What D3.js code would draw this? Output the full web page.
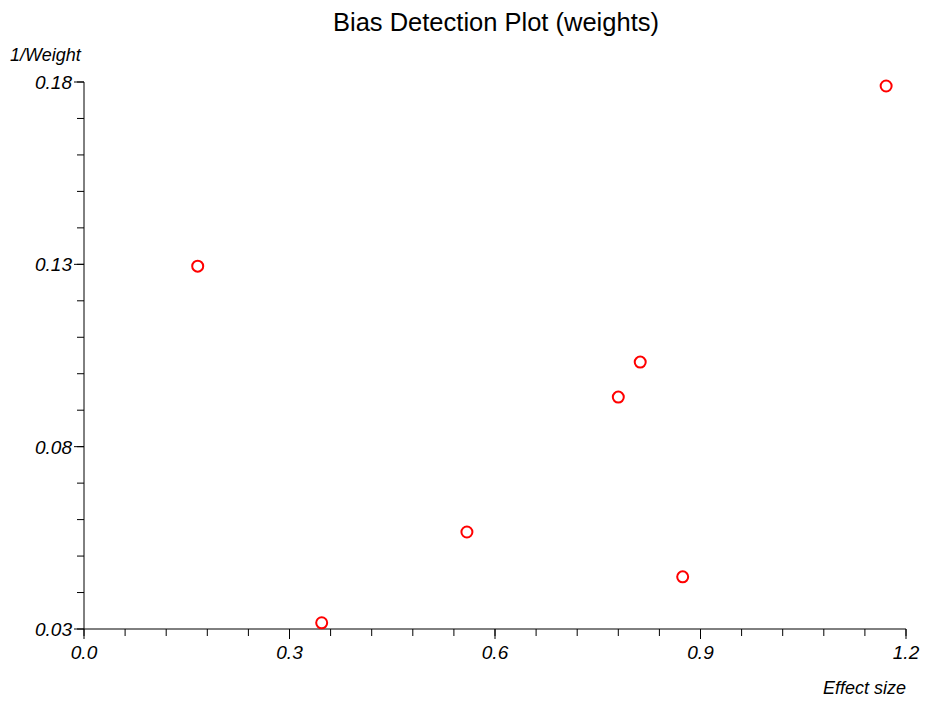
<!DOCTYPE html>
<html>
<head>
<meta charset="utf-8">
<script src="https://cdn.jsdelivr.net/npm/d3@7"></script>
<style>
  body { margin: 0; background: #fff; }
  text { font-family: "Liberation Sans", Arial, sans-serif; }
</style>
</head>
<body>
<div id="chart"></div>
<script>
// effect sizes and 1/weight
var effect = [0.166, 0.347, 0.559, 0.780, 0.812, 0.874, 1.171];
var invWeight = [0.1295, 0.0317, 0.0566, 0.0936, 0.1032, 0.0443, 0.1789];
var xTicks = [0.0, 0.3, 0.6, 0.9, 1.2];
var yTicks = [0.03, 0.08, 0.13, 0.18];

var width = 926, height = 702;
var m = { left: 84, right: 906, top: 82, bottom: 629 };

var svg = d3.select("#chart").append("svg")
    .attr("width", width)
    .attr("height", height);

var x = d3.scaleLinear().domain([0, 1.2]).range([m.left, m.right]);
var y = d3.scaleLinear().domain([0.03, 0.18]).range([m.bottom, m.top]);

// minor ticks: 0.06 on x, 0.01 on y
var xMinor = d3.range(0, 1.2001, 0.06);
var yMinor = d3.range(0.03, 0.1801, 0.01);

var xAxis = svg.append("g").attr("transform", "translate(0," + m.bottom + ")");
xAxis.append("line").attr("x1", m.left).attr("x2", m.right).attr("stroke", "#000");
xAxis.selectAll(".minor").data(xMinor).join("line")
    .attr("x1", d => x(d)).attr("x2", d => x(d))
    .attr("y1", 0).attr("y2", 7).attr("stroke", "#000");
xAxis.selectAll(".major").data(xTicks).join("line")
    .attr("x1", d => x(d)).attr("x2", d => x(d))
    .attr("y1", 0).attr("y2", 10).attr("stroke", "#000");
xAxis.selectAll("text").data(xTicks).join("text")
    .attr("x", d => x(d)).attr("y", 30)
    .attr("text-anchor", "middle")
    .style("font-size", "19px").style("font-style", "italic")
    .text(d => d.toFixed(1));

var yAxis = svg.append("g").attr("transform", "translate(" + m.left + ",0)");
yAxis.append("line").attr("y1", m.top).attr("y2", m.bottom).attr("stroke", "#000");
yAxis.selectAll(".minor").data(yMinor).join("line")
    .attr("y1", d => y(d)).attr("y2", d => y(d))
    .attr("x1", 0).attr("x2", -7).attr("stroke", "#000");
yAxis.selectAll(".major").data(yTicks).join("line")
    .attr("y1", d => y(d)).attr("y2", d => y(d))
    .attr("x1", 0).attr("x2", -10).attr("stroke", "#000");
yAxis.selectAll("text").data(yTicks).join("text")
    .attr("x", -12).attr("y", d => y(d) + 7)
    .attr("text-anchor", "end")
    .style("font-size", "19px").style("font-style", "italic")
    .text(d => d.toFixed(2));

svg.append("text")
    .attr("x", 496).attr("y", 31)
    .attr("text-anchor", "middle")
    .style("font-size", "25.5px")
    .text("Bias Detection Plot (weights)");

svg.append("text")
    .attr("x", 10).attr("y", 61)
    .style("font-size", "18px").style("font-style", "italic")
    .text("1/Weight");

svg.append("text")
    .attr("x", m.right).attr("y", 694)
    .attr("text-anchor", "end")
    .style("font-size", "18px").style("font-style", "italic")
    .text("Effect size");

svg.append("g").selectAll("circle")
    .data(effect.map((e, i) => [e, invWeight[i]]))
    .join("circle")
    .attr("cx", d => x(d[0]))
    .attr("cy", d => y(d[1]))
    .attr("r", 5.5)
    .attr("fill", "none")
    .attr("stroke", "#ff0000")
    .attr("stroke-width", 2);
</script>
</body>
</html>
